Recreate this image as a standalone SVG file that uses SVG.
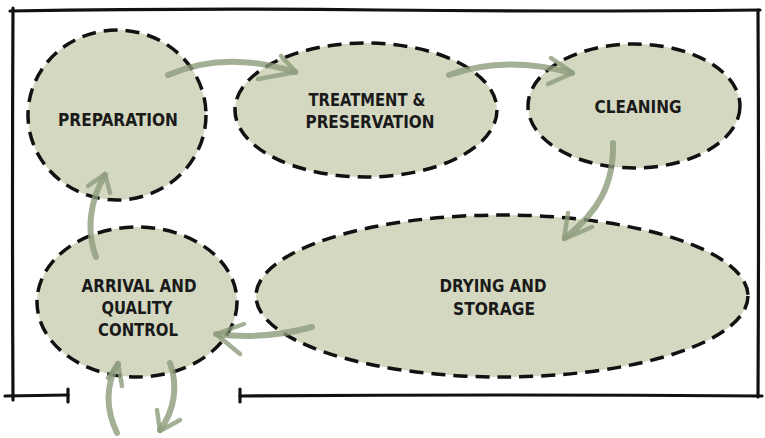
<svg xmlns="http://www.w3.org/2000/svg" width="765" height="438" viewBox="0 0 765 438">
<style>
.frame{fill:none;stroke:#111;stroke-width:3.2;stroke-linecap:round;stroke-linejoin:round}
.node{fill:#d4d8c1;stroke:#111;stroke-width:3.5;stroke-dasharray:14 8}
.lbl{font-family:"DejaVu Sans Condensed","DejaVu Sans",sans-serif;font-weight:bold;font-size:18px;fill:#1a1a1a;text-anchor:middle}
.arr{fill:none;stroke:#8d9c7c;stroke-opacity:0.8;stroke-width:6;stroke-linecap:round;stroke-linejoin:round}
.head{fill:none;stroke:#8d9c7c;stroke-opacity:0.8;stroke-width:4.5;stroke-linecap:round;stroke-linejoin:round}
</style>
<rect width="765" height="438" fill="#fff"/>
<g id="frame">
<path class="frame" d="M10,11 Q200,8 380,10 T760,10"/>
<path class="frame" d="M13,8 Q12,200 13,400"/>
<path class="frame" d="M758,10 Q759,200 758,397"/>
<path class="frame" d="M5,396 L68,395"/>
<path class="frame" d="M68,389 L68,402"/>
<path class="frame" d="M240,396 Q500,394 762,396"/>
<path class="frame" d="M240,389 L240,402"/>
</g>
<g id="preparation">
<ellipse class="node" cx="117" cy="115" rx="89" ry="85"/>
<text class="lbl" x="118" y="126" textLength="120" lengthAdjust="spacingAndGlyphs">PREPARATION</text>
</g>
<g id="treatment">
<ellipse class="node" cx="366" cy="110" rx="131" ry="67"/>
<text class="lbl" x="367" y="106" textLength="117" lengthAdjust="spacingAndGlyphs">TREATMENT &amp;</text>
<text class="lbl" x="370" y="128" textLength="129" lengthAdjust="spacingAndGlyphs">PRESERVATION</text>
</g>
<g id="cleaning">
<ellipse class="node" cx="634" cy="106" rx="106" ry="62"/>
<text class="lbl" x="638" y="113" textLength="87" lengthAdjust="spacingAndGlyphs">CLEANING</text>
</g>
<g id="drying">
<ellipse class="node" cx="502" cy="296" rx="246" ry="81"/>
<text class="lbl" x="493" y="292" textLength="107" lengthAdjust="spacingAndGlyphs">DRYING AND</text>
<text class="lbl" x="494" y="315" textLength="82" lengthAdjust="spacingAndGlyphs">STORAGE</text>
</g>
<g id="arrival">
<ellipse class="node" cx="137" cy="302" rx="100" ry="75"/>
<text class="lbl" x="139" y="292" textLength="115" lengthAdjust="spacingAndGlyphs">ARRIVAL AND</text>
<text class="lbl" x="137" y="314" textLength="71" lengthAdjust="spacingAndGlyphs">QUALITY</text>
<text class="lbl" x="138" y="336" textLength="80" lengthAdjust="spacingAndGlyphs">CONTROL</text>
</g>
<g id="connectors">
<path class="arr" d="M168,75 Q225,50 295,72"/>
<polyline class="head" points="281,56 296,72 258,79"/>
<path class="arr" d="M449,75 Q505,55 572,73"/>
<polyline class="head" points="551,58 573,73 548,84"/>
<path class="arr" d="M613,143 C614,185 598,212 565,238"/>
<polyline class="head" points="568,213 564,239 592,227"/>
<path class="arr" d="M312,327 Q265,340 216,334"/>
<polyline class="head" points="244,324 216,334 240,354"/>
<path class="arr" d="M96,257 C86,230 90,200 105,175"/>
<polyline class="head" points="88,186 105,174 110,193"/>
<path class="arr" d="M117,433 C106,410 105,385 118,364"/>
<polyline class="head" points="108,378 118,363 122,386"/>
<path class="arr" d="M170,363 C178,385 175,410 160,430"/>
<polyline class="head" points="157,410 160,431 180,420"/>
</g>
</svg>
